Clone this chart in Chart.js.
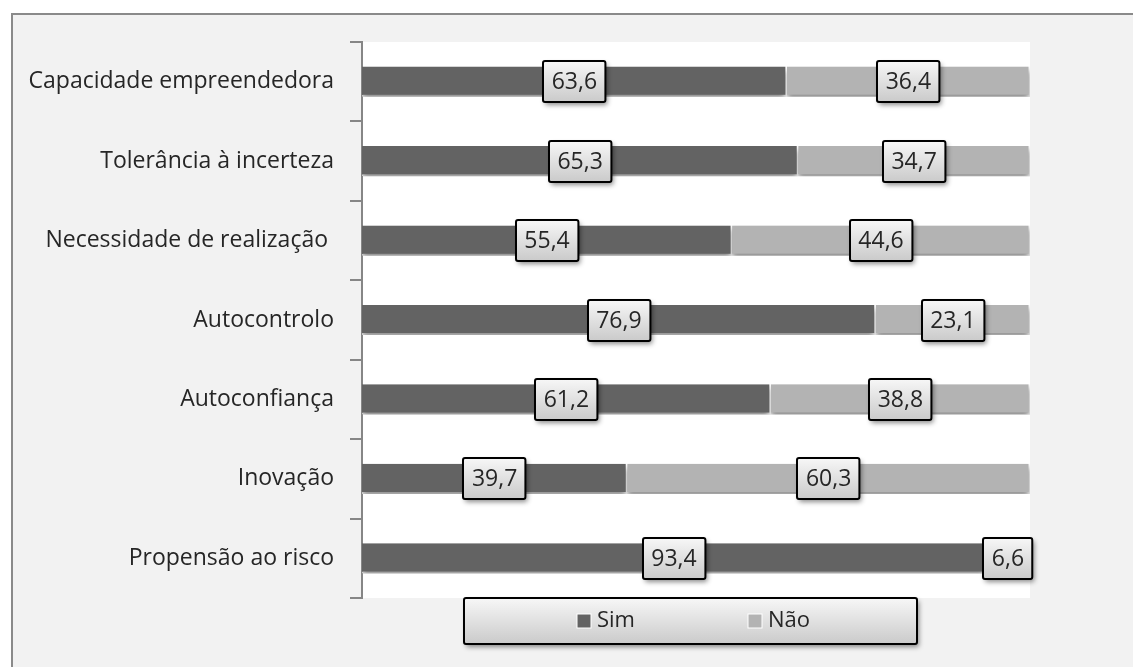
<!DOCTYPE html>
<html>
<head>
<meta charset="utf-8">
<script src="https://cdn.jsdelivr.net/npm/chart.js@4"></script>
<style>
  html, body { margin: 0; padding: 0; background: #fff; }
  #wrap { width: 1133px; height: 667px; }
</style>
</head>
<body>
<div id="wrap"><canvas id="chart" width="1133" height="667"></canvas></div>
<script>
const categories = [
    'Capacidade empreendedora',
    'Tolerância à incerteza',
    'Necessidade de realização ',
    'Autocontrolo',
    'Autoconfiança',
    'Inovação',
    'Propensão ao risco'
];
const simValues = [63.6, 65.3, 55.4, 76.9, 61.2, 39.7, 93.4];
const naoValues = [36.4, 34.7, 44.6, 23.1, 38.8, 60.3, 6.6];

const FONT = "'Open Sans', 'Noto Sans', sans-serif";

// grey frame + white plot area
const framePlugin = {
    id: 'frame',
    beforeDraw(chart) {
        const { ctx, chartArea: a, width, height } = chart;
        ctx.save();
        ctx.fillStyle = '#ffffff';
        ctx.fillRect(0, 0, width, height);
        ctx.fillStyle = '#f2f2f2';
        ctx.fillRect(11, 13, width - 11, height - 13);
        ctx.strokeStyle = '#8a8a8a';
        ctx.lineWidth = 2;
        ctx.beginPath();
        ctx.moveTo(12, height);
        ctx.lineTo(12, 14);
        ctx.lineTo(width, 14);
        ctx.stroke();
        ctx.fillStyle = '#ffffff';
        ctx.fillRect(a.left, a.top, a.right - a.left, a.bottom - a.top);
        ctx.restore();
    }
};

// soft shadow under the bars
const shadowPlugin = {
    id: 'barShadow',
    beforeDatasetsDraw(chart) {
        const ctx = chart.ctx;
        ctx.save();
        ctx.shadowColor = 'rgba(0,0,0,0.45)';
        ctx.shadowBlur = 6;
        ctx.shadowOffsetY = 4;
    },
    afterDatasetsDraw(chart) {
        chart.ctx.restore();
    }
};

function drawBox(ctx, x, y, w, h) {
    ctx.save();
    ctx.shadowColor = 'rgba(0,0,0,0.45)';
    ctx.shadowBlur = 5;
    ctx.shadowOffsetX = 2;
    ctx.shadowOffsetY = 3;
    const g = ctx.createLinearGradient(0, y, 0, y + h);
    g.addColorStop(0, '#f7f7f7');
    g.addColorStop(1, '#cacaca');
    ctx.fillStyle = g;
    ctx.beginPath();
    ctx.roundRect(x, y, w, h, 2);
    ctx.fill();
    ctx.shadowColor = 'transparent';
    ctx.lineWidth = 2;
    ctx.strokeStyle = '#000';
    ctx.stroke();
    ctx.restore();
}

// boxed value labels
const labelPlugin = {
    id: 'boxLabels',
    afterDraw(chart) {
        const ctx = chart.ctx;
        ctx.save();
        ctx.font = '23px ' + FONT;
        ctx.textAlign = 'center';
        ctx.textBaseline = 'middle';
        chart.data.datasets.forEach((ds, di) => {
            chart.getDatasetMeta(di).data.forEach((el, i) => {
                const txt = ds.data[i].toFixed(1).replace('.', ',');
                const cx = (el.x + el.base) / 2;
                const w = ctx.measureText(txt).width + 17;
                const h = 41;
                drawBox(ctx, Math.round(cx - w / 2), Math.round(el.y - h / 2), w, h);
                ctx.fillStyle = '#262626';
                ctx.fillText(txt, cx, el.y + 1);
            });
        });
        ctx.restore();
    }
};

// boxed legend below the plot
const legendPlugin = {
    id: 'boxLegend',
    afterDraw(chart) {
        const { ctx, chartArea: a } = chart;
        const w = 453, h = 46;
        const x = Math.round((a.left + a.right) / 2 - 6 - w / 2);
        const y = a.bottom;
        ctx.save();
        drawBox(ctx, x, y, w, h);
        ctx.font = '22px ' + FONT;
        ctx.textBaseline = 'middle';
        const starts = [x + 113, x + 284];
        chart.data.datasets.forEach((ds, i) => {
            const sx = starts[i];
            ctx.fillStyle = ds.backgroundColor;
            ctx.strokeStyle = '#ffffff';
            ctx.lineWidth = 1;
            ctx.fillRect(sx, y + 16, 14, 14);
            ctx.strokeRect(sx, y + 16, 14, 14);
            ctx.fillStyle = '#262626';
            ctx.fillText(ds.label, sx + 20, y + 23);
        });
        ctx.restore();
    }
};

new Chart(document.getElementById('chart'), {
    type: 'bar',
    data: {
        labels: categories,
        datasets: [
            { label: 'Sim', data: simValues, backgroundColor: '#636363' },
            { label: 'Não', data: naoValues, backgroundColor: '#b3b3b3' }
        ]
    },
    options: {
        indexAxis: 'y',
        responsive: false,
        animation: false,
        layout: { padding: { left: 11, top: 42, right: 103, bottom: 69 } },
        datasets: {
            bar: {
                barPercentage: 0.38,
                categoryPercentage: 1,
                borderColor: '#ffffff',
                borderWidth: { top: 0, left: 0, right: 1.5, bottom: 2 },
                borderSkipped: false
            }
        },
        scales: {
            x: { stacked: true, min: 0, max: 100, display: false },
            y: {
                stacked: true,
                afterFit(s) { s.width = 351; },
                grid: {
                    drawOnChartArea: false,
                    drawTicks: true,
                    tickLength: 12,
                    color: '#868686',
                    lineWidth: 2
                },
                border: { display: true, color: '#868686', width: 2 },
                ticks: {
                    padding: 16,
                    color: '#262626',
                    font: { family: FONT, size: 23 }
                }
            }
        },
        plugins: {
            legend: { display: false },
            tooltip: { enabled: false }
        }
    },
    plugins: [framePlugin, shadowPlugin, labelPlugin, legendPlugin]
});
</script>
</body>
</html>
